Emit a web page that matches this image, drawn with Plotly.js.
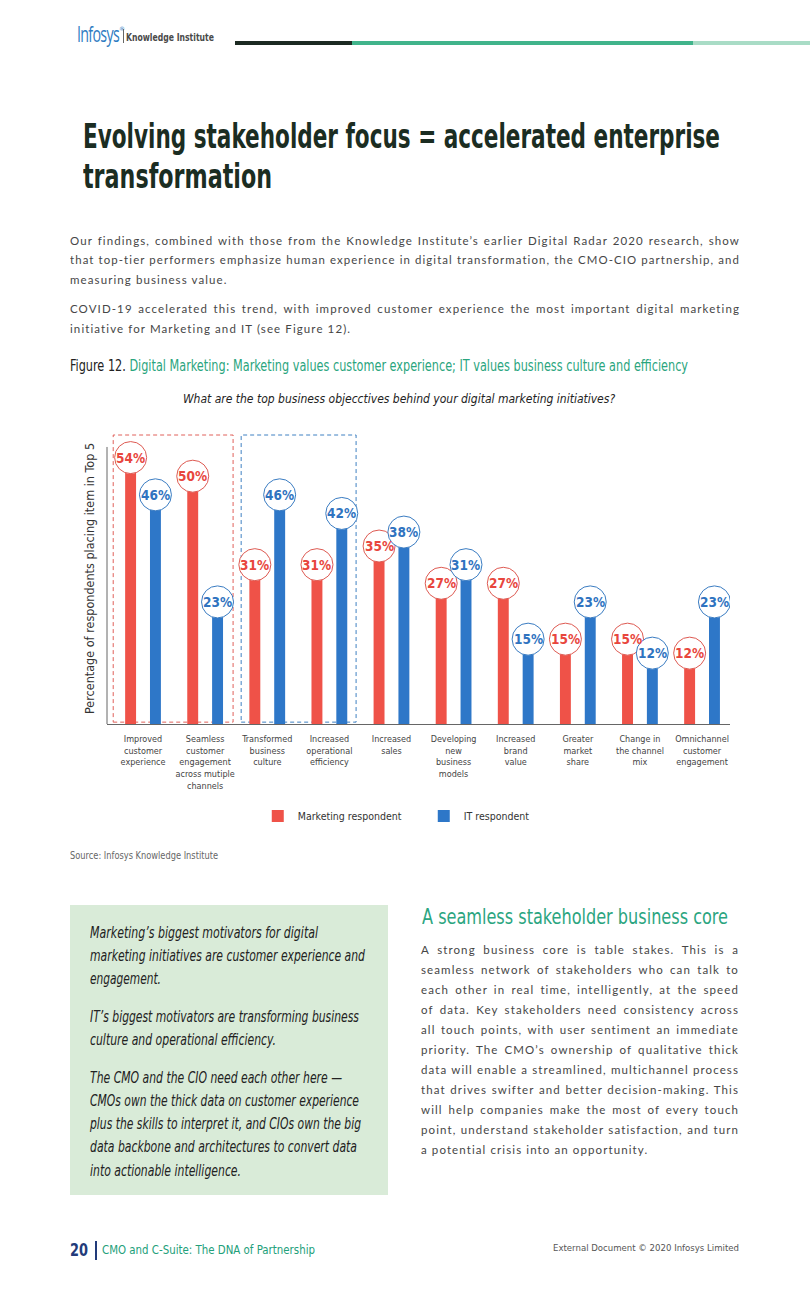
<!DOCTYPE html>
<html><head><meta charset="utf-8">
<script src="https://cdn.plot.ly/plotly-3.0.1.min.js"></script>
<style>
html,body{margin:0;padding:0;background:#fff;}
#page{position:relative;width:810px;height:1290px;overflow:hidden;background:#fff;}
.abs{position:absolute;white-space:nowrap;}
.cond{font-family:"Liberation Sans Narrow","DejaVu Sans Condensed","Roboto Condensed","Arial Narrow",sans-serif;font-stretch:condensed;}
.body{font-family:Lato,"Open Sans",sans-serif;font-size:11.5px;color:#464646;letter-spacing:1.1px;}
.jl{position:absolute;height:20px;line-height:20px;white-space:nowrap;text-align:justify;text-align-last:justify;}
.ll{text-align:left;text-align-last:left;}
.gb{position:absolute;left:90px;height:22px;line-height:22px;font-size:15px;font-style:italic;color:#222;white-space:nowrap;}
#chart{position:absolute;left:0;top:380px;width:810px;height:470px;}
</style></head>
<body><div id="page">

<!-- header -->
<div class="abs" style="left:77px;top:22px;height:24px;line-height:24px;font-family:'Open Sans',sans-serif;font-size:21px;color:#2f7cc2;letter-spacing:-1px;"><span data-w="42">Infosys</span></div>
<div class="abs" style="left:119px;top:25px;font-size:6px;color:#2f7cc2;font-family:'DejaVu Sans',sans-serif;">®</div>
<div class="abs" style="left:123px;top:29px;width:1px;height:14px;background:#666;"></div>
<div class="abs cond" style="left:126px;top:32px;height:12px;line-height:12px;font-size:10px;font-weight:bold;color:#4a4a4a;"><span data-w="88">Knowledge Institute</span></div>
<div class="abs" style="left:235px;top:41px;width:117px;height:4px;background:#1c2a22;"></div>
<div class="abs" style="left:352px;top:41px;width:341px;height:4px;background:#41b48b;"></div>
<div class="abs" style="left:693px;top:41px;width:117px;height:4px;background:#a9dcc6;"></div>

<!-- headline -->
<div class="abs cond" style="left:83px;top:116px;height:40px;line-height:40px;font-size:34px;font-weight:bold;color:#1b2d22;"><span data-w="637">Evolving stakeholder focus = accelerated enterprise</span></div>
<div class="abs cond" style="left:83px;top:156px;height:40px;line-height:40px;font-size:34px;font-weight:bold;color:#1b2d22;"><span data-w="189">transformation</span></div>

<!-- intro paragraphs -->
<div class="body">
<div class="jl" data-ow="670" style="left:70px;top:231px;width:670px;">Our findings, combined with those from the Knowledge Institute’s earlier Digital Radar 2020 research, show</div>
<div class="jl" data-ow="670" style="left:70px;top:250px;width:670px;">that top-tier performers emphasize human experience in digital transformation, the CMO-CIO partnership, and</div>
<div class="jl ll" data-ow="670" style="left:70px;top:270px;width:670px;">measuring business value.</div>
<div class="jl" data-ow="670" style="left:70px;top:299px;width:670px;">COVID-19 accelerated this trend, with improved customer experience the most important digital marketing</div>
<div class="jl ll" data-ow="670" style="left:70px;top:319px;width:670px;">initiative for Marketing and IT (see Figure 12).</div>
</div>

<!-- figure caption -->
<div class="abs cond" style="left:70px;top:356px;height:20px;line-height:20px;font-size:15px;color:#222;"><span data-w="618">Figure 12. <span style="color:#2aa57e;">Digital Marketing: Marketing values customer experience; IT values business culture and efficiency</span></span></div>

<div id="chart"></div>

<!-- source -->
<div class="abs cond" style="left:70px;top:849px;height:14px;line-height:14px;font-size:10px;color:#666;"><span data-w="148">Source: Infosys Knowledge Institute</span></div>

<!-- green box -->
<div class="abs" style="left:70px;top:905px;width:318px;height:290px;background:#d9ebd8;"></div>
<div class="cond">
<div class="gb" style="top:922px;"><span data-w="228">Marketing’s biggest motivators for digital</span></div>
<div class="gb" style="top:945px;"><span data-w="275">marketing initiatives are customer experience and</span></div>
<div class="gb" style="top:968px;"><span data-w="71">engagement.</span></div>
<div class="gb" style="top:1006px;"><span data-w="269">IT’s biggest motivators are transforming business</span></div>
<div class="gb" style="top:1029px;"><span data-w="186">culture and operational efficiency.</span></div>
<div class="gb" style="top:1067px;"><span data-w="252">The CMO and the CIO need each other here —</span></div>
<div class="gb" style="top:1090px;"><span data-w="269">CMOs own the thick data on customer experience</span></div>
<div class="gb" style="top:1113px;"><span data-w="271">plus the skills to interpret it, and CIOs own the big</span></div>
<div class="gb" style="top:1136px;"><span data-w="267">data backbone and architectures to convert data</span></div>
<div class="gb" style="top:1160px;"><span data-w="151">into actionable intelligence.</span></div>
</div>

<!-- right column -->
<div class="abs cond" style="left:422px;top:904px;height:26px;line-height:26px;font-size:21px;color:#2ba57f;"><span data-w="306">A seamless stakeholder business core</span></div>
<div class="body">
<div class="jl" data-ow="318" style="left:421px;top:940px;width:318px;">A strong business core is table stakes. This is a</div>
<div class="jl" data-ow="318" style="left:421px;top:960px;width:318px;">seamless network of stakeholders who can talk to</div>
<div class="jl" data-ow="318" style="left:421px;top:980px;width:318px;">each other in real time, intelligently, at the speed</div>
<div class="jl" data-ow="318" style="left:421px;top:1000px;width:318px;">of data. Key stakeholders need consistency across</div>
<div class="jl" data-ow="318" style="left:421px;top:1020px;width:318px;">all touch points, with user sentiment an immediate</div>
<div class="jl" data-ow="318" style="left:421px;top:1040px;width:318px;">priority. The CMO’s ownership of qualitative thick</div>
<div class="jl" data-ow="318" style="left:421px;top:1060px;width:318px;">data will enable a streamlined, multichannel process</div>
<div class="jl" data-ow="318" style="left:421px;top:1080px;width:318px;">that drives swifter and better decision-making. This</div>
<div class="jl" data-ow="318" style="left:421px;top:1100px;width:318px;">will help companies make the most of every touch</div>
<div class="jl" data-ow="318" style="left:421px;top:1120px;width:318px;">point, understand stakeholder satisfaction, and turn</div>
<div class="jl ll" data-ow="318" style="left:421px;top:1140px;width:318px;">a potential crisis into an opportunity.</div>
</div>

<!-- footer -->
<div class="abs cond" style="left:70px;top:1240px;height:20px;line-height:20px;font-size:17px;font-weight:bold;color:#223b7a;"><span data-w="18">20</span></div>
<div class="abs" style="left:95px;top:1241px;width:2px;height:19px;background:#223b7a;"></div>
<div class="abs cond" style="left:102px;top:1243px;height:14px;line-height:14px;font-size:11.5px;color:#22a07a;"><span data-w="213">CMO and C-Suite: The DNA of Partnership</span></div>
<div class="abs cond" style="left:553px;top:1242px;height:12px;line-height:12px;font-size:9.5px;color:#555;"><span data-w="186">External Document © 2020 Infosys Limited</span></div>

</div>
<script>
// ---- chart data ----
const categories = [
  'Improved<br>customer<br>experience',
  'Seamless<br>customer<br>engagement<br>across mutiple<br>channels',
  'Transformed<br>business<br>culture',
  'Increased<br>operational<br>efficiency',
  'Increased<br>sales',
  'Developing<br>new<br>business<br>models',
  'Increased<br>brand<br>value',
  'Greater<br>market<br>share',
  'Change in<br>the channel<br>mix',
  'Omnichannel<br>customer<br>engagement'
];
const marketingValues = [54, 50, 31, 31, 35, 27, 27, 15, 15, 12];
const itValues = [46, 23, 46, 42, 38, 31, 15, 23, 12, 23];
const seriesNames = ['Marketing respondent', 'IT respondent'];
const chartTitle = 'What are the top business objecctives behind your digital marketing initiatives?';
const yTitle = 'Percentage of respondents placing item in Top 5';

// ---- styles ----
const COND = '"Liberation Sans Narrow", "DejaVu Sans Condensed", "Arial Narrow", sans-serif';
const barColors = ['#ef5248', '#2e77c8'];
const ringColors = ['#de5a52', '#3a7cc2'];
const textColors = ['#e8463d', '#2f73c0'];
const pairShift = [-12.4, 12.4];

const series = [marketingValues, itValues];
const traces = series.map((vals, k) => ({
  type: 'bar', x: categories, y: vals, name: seriesNames[k],
  marker: {color: barColors[k]}, hoverinfo: 'skip'
}));

const shapes = [
  {type:'rect', xref:'x', yref:'y', x0:-0.48, x1:1.45, y0:0.4, y1:62.07, layer:'below',
   line:{color:'#e0605a', width:1, dash:'4px,3px'}},
  {type:'rect', xref:'x', yref:'y', x0:1.58, x1:3.43, y0:0.4, y1:62.07, layer:'below',
   line:{color:'#3f80c2', width:1, dash:'4px,3px'}},
  {type:'line', xref:'paper', yref:'y', x0:0, x1:0, y0:0, y1:59.5, line:{color:'#666', width:1}}
];
const annotations = [];
series.forEach((vals, k) => {
  vals.forEach((v, i) => {
    shapes.push({type:'circle', xref:'x', yref:'y', xsizemode:'pixel', ysizemode:'pixel',
      xanchor: categories[i], yanchor: v, x0: pairShift[k]-16, x1: pairShift[k]+16, y0: -1, y1: 31,
      line:{color: ringColors[k], width:1}, fillcolor:'#ffffff', layer:'above'});
    annotations.push({xref:'x', yref:'y', x: categories[i], y: v, text: v + '%', showarrow:false,
      xshift: pairShift[k], yshift: 15, xanchor:'center', yanchor:'middle',
      font:{family: COND, size:13.5, color: textColors[k], weight:'bold'}});
  });
});

const layout = {
  width: 810, height: 470,
  margin: {l:107, r:80, t:53, b:126},
  paper_bgcolor: 'rgba(0,0,0,0)', plot_bgcolor: 'rgba(0,0,0,0)',
  barmode: 'group', bargap: 0.2, bargroupgap: 0.56,
  title: {text: chartTitle, xref:'container', x: 0.4926, xanchor:'center', yref:'container', y: 0.9596, yanchor:'middle',
    font: {family: COND, size: 12, color: '#222', style: 'italic'}},
  xaxis: {type:'category', range:[-0.58, 9.45], showline:true, linecolor:'#666', linewidth:1, ticks:'',
    tickangle: 0, ticklabelstandoff: 6, showgrid:false, zeroline:false, fixedrange:true, automargin:false,
    tickfont:{family: COND, size:9, color:'#444'}},
  yaxis: {range:[0, 62.5], showline:false, showgrid:false, zeroline:false, showticklabels:false, ticks:'',
    fixedrange:true, automargin:false,
    title:{text: yTitle, font:{family: COND, size:12.5, color:'#333'}, standoff: 8}},
  legend: {orientation:'h', x:0.242, xanchor:'left', y:-0.316, yanchor:'middle',
    font:{family: COND, size:10.5, color:'#333'}, entrywidth:121, entrywidthmode:'pixels', traceorder:'normal'},
  showlegend: true,
  shapes: shapes, annotations: annotations
};
Plotly.newPlot('chart', traces, layout, {displayModeBar:false, staticPlot:true});

// ---- text fitting for page typography ----
function fitAll(){
  document.querySelectorAll('[data-w]').forEach(el => {
    el.style.display = 'inline-block';
    el.style.transformOrigin = '0 50%';
    el.style.transform = 'none';
    const w = el.getBoundingClientRect().width;
    if (w > 0) el.style.transform = 'scaleX(' + (parseFloat(el.dataset.w) / w) + ')';
  });
  document.querySelectorAll('.jl').forEach(el => {
    const W = parseFloat(el.dataset.ow);
    el.style.transform = 'none';
    el.style.width = W + 'px';
    const natural = el.scrollWidth;
    if (natural > W + 0.5) {
      el.style.width = natural + 'px';
      el.style.transformOrigin = '0 50%';
      el.style.transform = 'scaleX(' + (W / natural) + ')';
    }
  });
}
if (document.fonts && document.fonts.ready) document.fonts.ready.then(fitAll); else fitAll();
fitAll();
</script>
</body></html>
